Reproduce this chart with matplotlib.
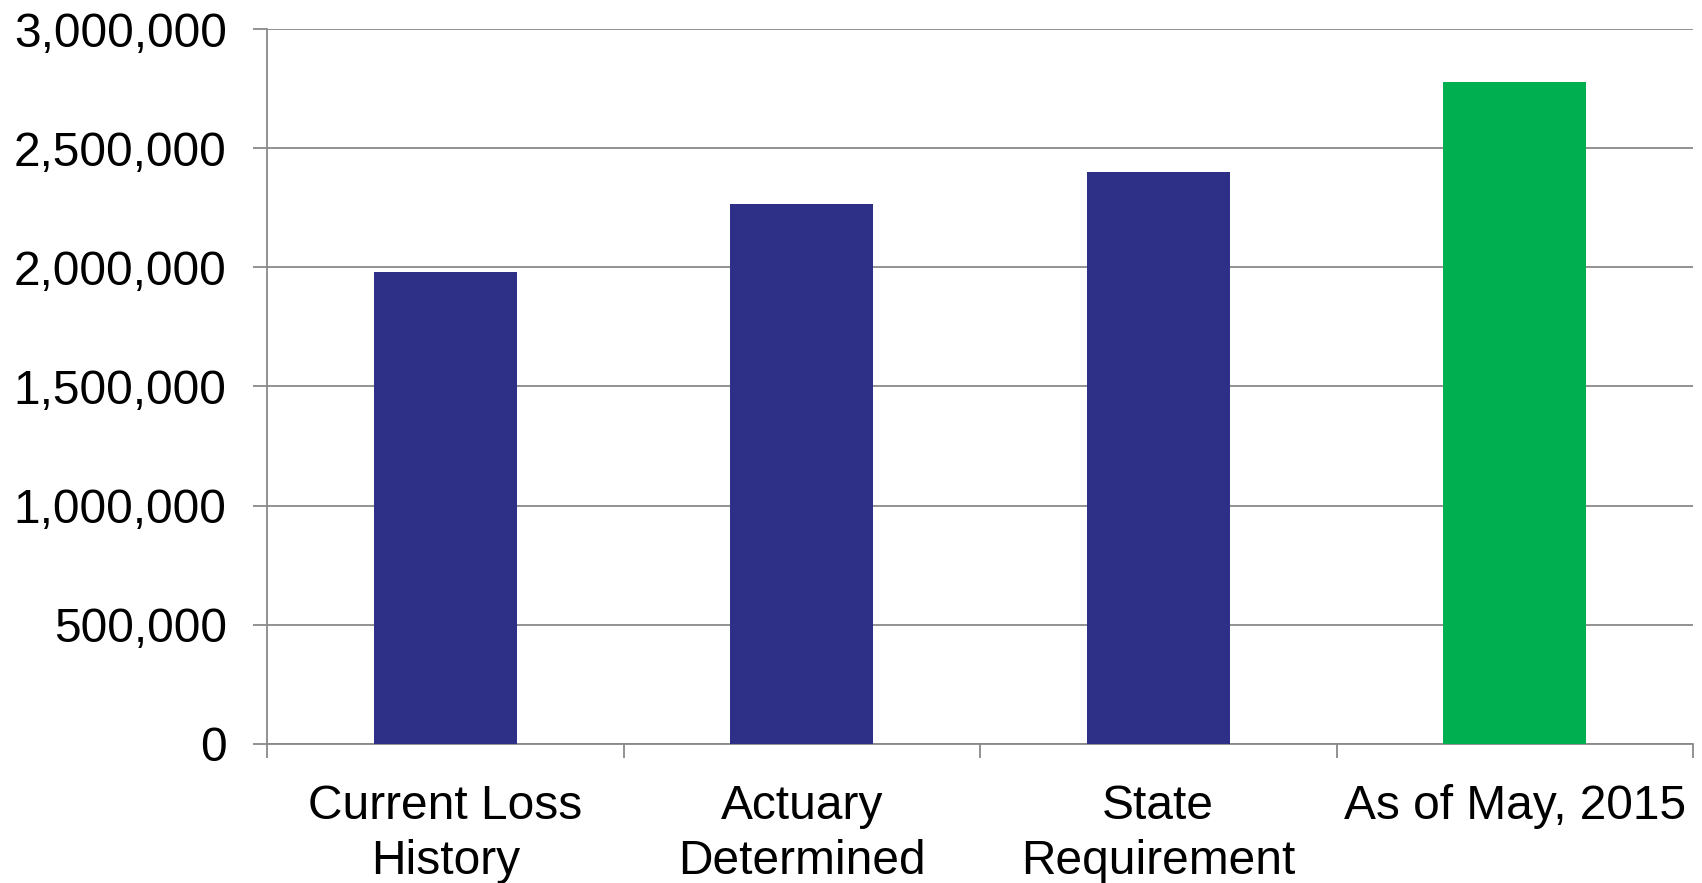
import matplotlib
matplotlib.use("Agg")
import matplotlib.pyplot as plt
from matplotlib.ticker import FuncFormatter, FixedLocator

categories = ["Current Loss\nHistory", "Actuary\nDetermined", "State\nRequirement", "As of May, 2015"]
values = [1980000, 2265000, 2400000, 2780000]
colors = ["#2E3087", "#2E3087", "#2E3087", "#00AF50"]
yticks = [0, 500000, 1000000, 1500000, 2000000, 2500000, 3000000]

plt.rcParams['font.family'] = ['Liberation Sans', 'DejaVu Sans']

fig = plt.figure(figsize=(17.02, 8.83), dpi=100)
ax = fig.add_axes([267/1702, 1 - 743.6/883, (1693-267)/1702, (743.6-29.3)/883])

x = list(range(len(categories)))
ax.bar(x, values, width=0.4, color=colors, zorder=3)

grid_c = "#898989"
ax.set_xlim(-0.5, len(categories) - 0.5)
ax.set_ylim(0, 3000000)
ax.set_yticks(yticks)
ax.yaxis.set_major_formatter(FuncFormatter(lambda v, p: f"{int(v):,}"))
ax.grid(axis='y', color=grid_c, linewidth=1.3, zorder=1)
ax.set_axisbelow(True)

ax.set_xticks(x)
ax.set_xticklabels(categories)
ax.xaxis.set_minor_locator(FixedLocator([i - 0.5 for i in range(len(categories) + 1)]))
ax.tick_params(axis='x', which='major', length=0, pad=29, labelsize=34.5, colors='black')
ax.tick_params(axis='x', which='minor', length=10, width=1.3, color=grid_c)
ax.tick_params(axis='y', which='major', length=10, width=1.3, color=grid_c, pad=19, labelsize=34.5, labelcolor='black')

for s in ['top', 'right']:
    ax.spines[s].set_visible(False)
for s in ['left', 'bottom']:
    ax.spines[s].set_color(grid_c)
    ax.spines[s].set_linewidth(1.3)

for lbl in ax.get_xticklabels():
    lbl.set_linespacing(1.3)

fig.savefig("out.png", dpi=100, facecolor='white')
